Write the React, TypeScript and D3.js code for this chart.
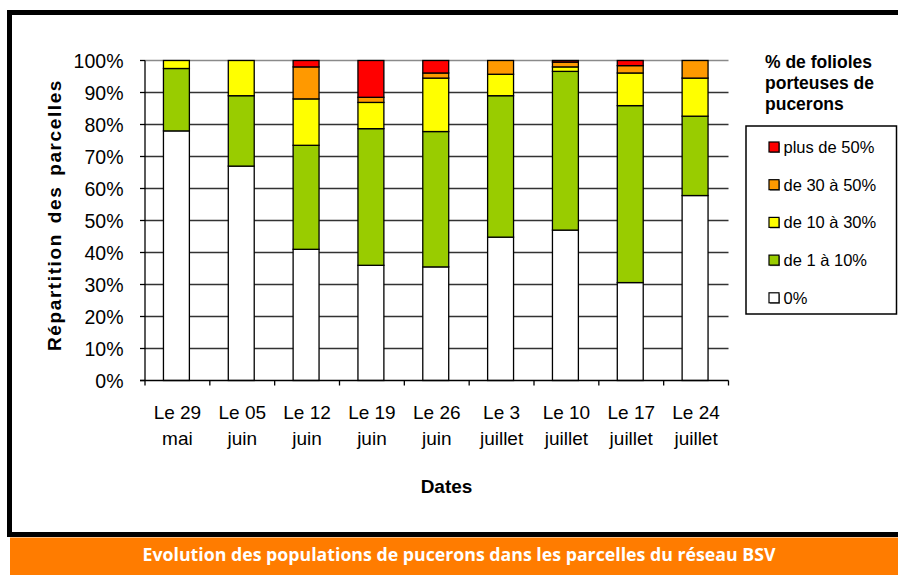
import React from "react";
import * as d3 from "d3";

const dateLine1 = ["Le 29", "Le 05", "Le 12", "Le 19", "Le 26", "Le 3", "Le 10", "Le 17", "Le 24"];
const dateLine2 = ["mai", "juin", "juin", "juin", "juin", "juillet", "juillet", "juillet", "juillet"];

const zeroPct = [78, 67, 41, 36, 35.5, 44.8, 47, 30.6, 57.8];
const from1to10 = [19.5, 22, 32.5, 42.7, 42.3, 44.2, 49.6, 55.3, 24.8];
const from10to30 = [2.5, 11, 14.5, 8.2, 16.7, 6.7, 1.4, 10.2, 11.9];
const from30to50 = [0, 0, 10, 1.6, 1.6, 4.3, 1.5, 2.3, 5.5];
const over50 = [0, 0, 2, 11.5, 3.9, 0, 0.5, 1.6, 0];

const seriesKeys = ["zero", "g1", "g10", "g30", "g50"];
const seriesLabels = ["0%", "de 1 à 10%", "de 10 à 30%", "de 30 à 50%", "plus de 50%"];
const seriesColors = ["#FFFFFF", "#99CC00", "#FFFF00", "#FF9900", "#FF0000"];
const yTicks = [0, 10, 20, 30, 40, 50, 60, 70, 80, 90, 100];

export default function App() {
  const rows = dateLine1.map((d, i) => ({
    key: i,
    zero: zeroPct[i],
    g1: from1to10[i],
    g10: from10to30[i],
    g30: from30to50[i],
    g50: over50[i],
  }));
  const stack = d3.stack<any>().keys(seriesKeys)(rows);

  const x0 = 145, x1 = 728.5;
  const x = d3.scaleBand<number>().domain(rows.map((r) => r.key)).range([x0, x1]).paddingInner(0.6).paddingOuter(0.3);
  const step = x.step();
  const y = d3.scaleLinear().domain([0, 100]).range([380.5, 60.5]);
  const font = "'Liberation Sans', Arial, sans-serif";

  const legendItems = [4, 3, 2, 1, 0];

  return (
    <svg width={898} height={575} style={{ position: "absolute", left: 0, top: 0 }} fontFamily={font}>
      <rect x={0} y={0} width={898} height={575} fill="#fff" />
      {/* frame */}
      <rect x={9.5} y={12.5} width={900} height={522} fill="#fff" stroke="#000" strokeWidth={5} />
      <rect x={10} y={537.5} width={888} height={38} fill="#FF7C00" />
      <text x={459} y={561} textAnchor="middle" fill="#fff" fontFamily="'Open Sans', sans-serif" fontWeight={700} fontSize={18} textLength={633} lengthAdjust="spacingAndGlyphs">
        Evolution des populations de pucerons dans les parcelles du réseau BSV
      </text>

      {/* gridlines */}
      {yTicks.filter((t) => t > 0).map((t) => (
        <line key={t} x1={x0} x2={x1} y1={y(t)} y2={y(t)} stroke={t === 100 ? "#8a8a8a" : "#333"} strokeWidth={t === 100 ? 1.6 : 1.3} />
      ))}

      {/* bars */}
      {stack.map((s, si) =>
        s.map((d, i) => {
          const h = y(d[0]) - y(d[1]);
          if (h <= 0.01) return null;
          return (
            <rect key={si + "-" + i} x={(x(i) as number) - 1} y={y(d[1])} width={x.bandwidth()} height={h} fill={seriesColors[si]} stroke="#000" strokeWidth={1.3} />
          );
        })
      )}

      {/* axes */}
      <line x1={x0} x2={x0} y1={y(100)} y2={y(0)} stroke="#000" strokeWidth={1.3} />
      {yTicks.map((t) => (
        <g key={t}>
          <line x1={140} x2={x0} y1={y(t)} y2={y(t)} stroke="#000" strokeWidth={1.3} />
          <text x={123.5} y={y(t)} dy="0.36em" textAnchor="end" fontSize={19.5} fill="#000">{t}%</text>
        </g>
      ))}
      <line x1={140} x2={x1} y1={y(0)} y2={y(0)} stroke="#000" strokeWidth={1.3} />
      {d3.range(rows.length + 1).map((i) => (
        <line key={i} x1={x0 + i * step} x2={x0 + i * step} y1={y(0)} y2={y(0) + 5} stroke="#000" strokeWidth={1.3} />
      ))}
      {rows.map((r, i) => {
        const cx = (x(i) as number) + x.bandwidth() / 2;
        return (
          <g key={i}>
            <text x={cx} y={419} textAnchor="middle" fontSize={19} fill="#000">{dateLine1[i]}</text>
            <text x={cx} y={445} textAnchor="middle" fontSize={19} fill="#000">{dateLine2[i]}</text>
          </g>
        );
      })}
      <text x={446.5} y={493} textAnchor="middle" fontSize={19} fontWeight={700}>Dates</text>
      <text transform="translate(61,215) rotate(-90)" textAnchor="middle" fontSize={19} fontWeight={700} letterSpacing={1.6} wordSpacing={3}>
        Répartition des parcelles
      </text>

      {/* legend */}
      <text x={765} y={68} fontSize={17.5} fontWeight={700}>% de folioles</text>
      <text x={765} y={89} fontSize={17.5} fontWeight={700}>porteuses de</text>
      <text x={765} y={110} fontSize={17.5} fontWeight={700}>pucerons</text>
      <rect x={746} y={126} width={150.5} height={188} fill="#fff" stroke="#000" strokeWidth={1.5} />
      {legendItems.map((si, j) => {
        const cy = 147 + j * 37.7;
        return (
          <g key={si}>
            <rect x={770} y={cy - 4} width={10} height={10} fill="#777" />
            <rect x={769} y={cy - 5} width={10} height={10} fill={seriesColors[si]} stroke="#000" strokeWidth={1.2} />
            <text x={783.5} y={cy} dy="0.36em" fontSize={16.5} fill="#000">{seriesLabels[si]}</text>
          </g>
        );
      })}
    </svg>
  );
}
